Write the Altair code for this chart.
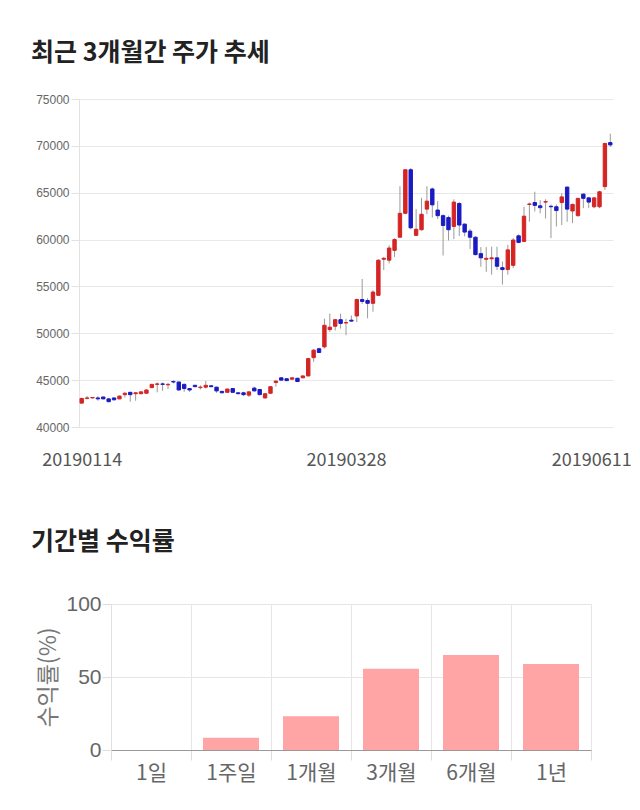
import altair as alt
import pandas as pd

# ---- candlestick data (index = trading day) ----
opens = [42550, 43050, 43100, 43100, 43200, 43000, 43100, 43000, 43450, 43700,
         43550, 43550, 43600, 44200, 44550, 44600, 44500, 44850, 44800, 44550,
         44100, 44450, 44200, 44250, 44400, 44250, 43800, 43700, 44100, 43650,
         43650, 43400, 44150, 44000, 43100, 43600, 44750, 45250, 45150, 45100,
         45200, 45250, 45450, 47400, 48350, 48550, 50400, 50750, 51450, 51100,
         51400, 51850, 53600, 53500, 53200, 54050, 57900, 57800, 58850, 60250,
         62800, 67450, 60450, 61050, 63250, 65400, 63150, 62550, 62350, 61400,
         63850, 61650, 60900, 60250, 58500, 57900, 57950, 58050, 57000, 56800,
         57250, 60400, 59800, 63750, 63950, 63600, 64000, 63550, 63500, 63950,
         65600, 63050, 62550, 64850, 64450, 63500, 63500, 65650, 70350]
closes = [43050, 43100, 43150, 43000, 43000, 42700, 42900, 43300, 43600, 43450,
          43650, 43750, 43950, 44550, 44600, 44550, 44550, 44800, 43950, 44100,
          43950, 44300, 44250, 44450, 44300, 43850, 43650, 44050, 43700, 43550,
          43450, 43750, 43850, 43450, 43550, 44300, 44900, 45000, 44950, 45250,
          44850, 45450, 47300, 48200, 47950, 50850, 50650, 51450, 51050, 51150,
          51300, 53600, 53400, 53200, 54400, 57800, 58000, 59100, 60000, 62800,
          67450, 61250, 61100, 62700, 64100, 63700, 62550, 61500, 61050, 64000,
          61550, 60800, 60250, 58400, 58050, 58000, 58050, 57150, 56800, 58900,
          59950, 59700, 62500, 63800, 63650, 63400, 64050, 63500, 63100, 64550,
          63250, 63750, 64400, 64400, 64000, 64450, 65100, 70250, 70100]
highs = [43100, 43300, 43200, 43300, 43250, 43050, 43150, 43350, 43750, 43750,
         43700, 43800, 44000, 44600, 44750, 44750, 44700, 45000, 44850, 44650,
         44150, 44500, 44450, 44900, 44450, 44300, 43850, 44100, 44150, 43700,
         43750, 43800, 44300, 44050, 43600, 44350, 45000, 45300, 45200, 45300,
         45250, 45500, 47400, 48300, 48450, 51560, 52100, 51550, 52100, 51550,
         51900, 53700, 55800, 53750, 54600, 57900, 58150, 59400, 60150, 65700,
         67500, 67650, 63250, 64450, 65700, 65550, 64100, 62700, 62550, 64300,
         64000, 61700, 61150, 60350, 59200, 59200, 59250, 59250, 57650, 59450,
         60150, 60550, 63500, 63950, 65100, 64200, 64300, 63750, 63750, 64950,
         65650, 63850, 64400, 64950, 64550, 64550, 65200, 70350, 71300]
lows = [42500, 42950, 43050, 42800, 42950, 42650, 42850, 42950, 43150, 42700,
        42800, 43500, 43550, 44150, 43700, 43850, 44050, 44650, 43900, 43750,
        43750, 44250, 44000, 44100, 44250, 43650, 43600, 43650, 43650, 43500,
        43300, 43200, 43800, 43400, 43050, 43550, 44300, 44950, 44900, 45050,
        44800, 45200, 45400, 46950, 47900, 48370, 50150, 50300, 50500, 49800,
        51200, 51200, 53150, 51600, 52300, 54000, 56750, 57450, 58150, 60200,
        62700, 61100, 60350, 60950, 62700, 62350, 62200, 58300, 59900, 60050,
        60400, 60350, 59000, 58300, 57100, 56550, 56250, 56750, 55200, 56250,
        56950, 59600, 59750, 61900, 63000, 62800, 62250, 60150, 61400, 61550,
        61900, 61750, 62450, 63350, 63350, 63350, 63350, 65300, 69900]

tick_idx = [0, 49, 98]
tick_labels = ["20190114", "20190328", "20190611"]

# ---- period returns ----
periods = ["1일", "1주일", "1개월", "3개월", "6개월", "1년"]
returns = [0.0, 8.4, 23.2, 55.7, 65.0, 58.9]

RED = "#d42424"
BLUE = "#1b1bc4"
KFONT = "Noto Sans CJK KR"

n = len(opens)
candles = pd.DataFrame({
    "i": list(range(n)),
    "open": opens, "close": closes, "high": highs, "low": lows,
})
candles["dir"] = ["up" if c >= o else "down" for o, c in zip(opens, closes)]

label_expr = " : ".join(
    f"datum.value == {k} ? '{v}'" for k, v in zip(tick_idx, tick_labels)
) + " : ''"

xq = alt.X(
    "i:Q",
    scale=alt.Scale(domain=[-0.5, n - 0.5], nice=False, zero=False, padding=0),
    axis=alt.Axis(
        values=tick_idx, labelExpr=label_expr, grid=False, domain=False,
        ticks=False, labelFontSize=18, labelColor="#555", labelPadding=24,
        labelFont=KFONT, labelFlush=False,
        labelOffset={"condition": {"test": f"datum.value == {tick_idx[-1]}", "value": -19}, "value": 0},
        title=None,
    ),
)
yscale = alt.Scale(domain=[40000, 75000], nice=False, zero=False)
base = alt.Chart(candles).encode(x=xq)

wick = base.mark_rule(color="#9a9a9a", strokeWidth=1).encode(
    y=alt.Y("low:Q", scale=yscale, axis=alt.Axis(
        values=list(range(40000, 75001, 5000)), format="d", title=None,
        labelFontSize=12, labelColor="#666", labelFont="Liberation Sans",
        gridColor="#e8e8e8", domainColor="#e2e2e2", tickColor="#e2e2e2",
        tickSize=8, labelPadding=2,
    )),
    y2="high:Q",
)
color_scale = alt.Scale(domain=["up", "down"], range=[RED, BLUE])
body = base.mark_bar(size=3.4, strokeWidth=1).encode(
    y="open:Q",
    y2="close:Q",
    color=alt.Color("dir:N", scale=color_scale, legend=None),
    stroke=alt.Stroke("dir:N", scale=color_scale, legend=None),
)

top = alt.layer(wick, body).properties(
    width=534, height=328,
    view=alt.ViewBackground(strokeOpacity=0),
    title=alt.TitleParams(
        "최근 3개월간 주가 추세", anchor="start", frame="group", dx=-48,
        fontSize=25, fontWeight="bold", color="#222", offset=27, font=KFONT,
    ),
)

rets = pd.DataFrame({"period": periods, "ret": returns})
bars = alt.Chart(rets).mark_bar(width={"band": 0.7}, color="#ffa5a5").encode(
    x=alt.X("period:N", sort=periods,
            scale=alt.Scale(paddingInner=0, paddingOuter=0),
            axis=alt.Axis(tickBand="extent", labelAngle=0, labelFontSize=21,
                          labelColor="#666", labelFont=KFONT, grid=True,
                          gridColor="#e6e6e6", tickColor="#dddddd", tickSize=10,
                          domainColor="#999999", title=None, labelPadding=2)),
    y=alt.Y("ret:Q", scale=alt.Scale(domain=[0, 100], nice=False),
            axis=alt.Axis(values=[0, 50, 100], title="수익률(%)", titleFontSize=23,
                          titleFont=KFONT, titleFontWeight="normal", titleColor="#777",
                          titlePadding=5, labelFontSize=21, labelColor="#666",
                          labelFont="Liberation Sans", gridColor="#e6e6e6",
                          domainColor="#e0e0e0", tickColor="#dddddd", tickSize=9,
                          labelPadding=1)),
).properties(
    width=480, height=146,
    view=alt.ViewBackground(stroke="#e6e6e6"),
    title=alt.TitleParams(
        "기간별 수익률", anchor="start", frame="group", dx=-80,
        fontSize=25, fontWeight="bold", color="#222", offset=38, font=KFONT,
    ),
)

# empty spacer that shifts the return chart's plot area to the right
spacer = alt.Chart(pd.DataFrame({"v": [0]})).mark_point(opacity=0).encode(
    x=alt.value(0), y=alt.value(0)
).properties(width=32, height=146, view=alt.ViewBackground(strokeOpacity=0))

bottom = alt.hconcat(spacer, bars, spacing=0, bounds="flush")

chart = alt.vconcat(top, bottom, spacing=177, bounds="flush").properties(
    padding={"left": 30, "top": 41, "right": 0, "bottom": 0}
).configure(font=KFONT)

chart.save("out.html", embed_options={"renderer": "svg", "actions": False})
